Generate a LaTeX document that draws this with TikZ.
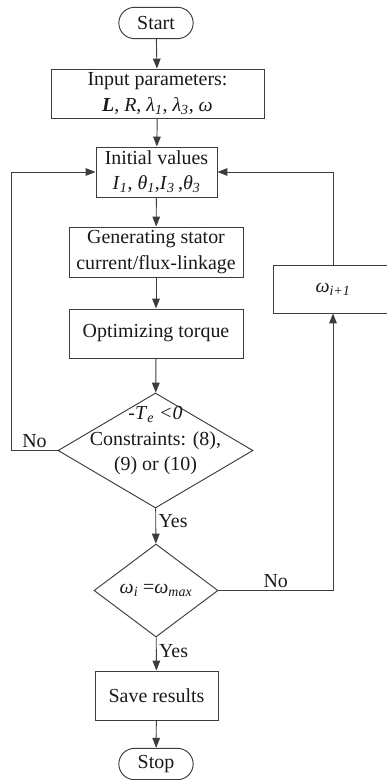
\documentclass[tikz,border=0pt]{standalone}
\usepackage{fontspec}
\setmainfont{Liberation Serif}
\usetikzlibrary{arrows.meta,shapes.geometric,shapes.misc}
\definecolor{lineCol}{RGB}{60,60,60}
\definecolor{textCol}{RGB}{25,25,25}
\tikzset{
  txt/.style={font=\fontsize{17}{21.5}\selectfont,text=textCol,align=center},
  proc/.style={rectangle,draw=lineCol,line width=0.8pt,fill=white,txt,
    inner sep=2pt},
  term/.style={rounded rectangle,draw=lineCol,line width=0.8pt,fill=white,
    txt,minimum width=23.7mm,minimum height=9.4mm,inner sep=2pt},
  decide/.style={diamond,draw=lineCol,line width=0.8pt,fill=white,txt,
    inner sep=0pt},
  lbl/.style={txt,inner sep=2pt},
  arr/.style={-{Triangle[length=8.5pt,width=6.5pt]},line width=0.8pt,
    color=lineCol},
}

\begin{document}
\begin{tikzpicture}[x=0.3mm,y=-0.3mm]
\useasboundingbox (0,0) rectangle (386,780);

% =====================================================================
%  MAIN COLUMN — Start down to Stop
% =====================================================================
\node[term] (start) at (156,23) {Start};
\node[proc,minimum width=63.9mm,minimum height=14.7mm] (inp) at (157.5,93.5)
  {Input parameters:\\
   \textbf{\textit{L}}, \textit{R}, \textit{λ}\textsubscript{\textit{1}},
   \textit{λ}\textsubscript{\textit{3}}, \textit{ω}};
\node[proc,minimum width=36.3mm,minimum height=15mm] (init) at (156.5,172)
  {Initial values\\
   \textit{I}\textsubscript{\textit{1}}, \textit{θ}\textsubscript{\textit{1}},\textit{I}\textsubscript{\textit{3}}\,,\textit{θ}\textsubscript{\textit{3}}};
\node[proc,minimum width=52.2mm,minimum height=15mm] (gen) at (156,252)
  {Generating stator\\current/flux-linkage};
\node[proc,minimum width=52.2mm,minimum height=14.7mm] (opt) at (156,333.5)
  {Optimizing torque};

% --- decisions ---
\node[decide,minimum width=58.5mm,minimum height=34.5mm,
  label={[txt,yshift=3mm]center:{-\textit{T}\textsubscript{\textit{e}} \textit{<0}\\
    Constraints: (8),\\(9) or (10)}}] (dec1) at (155.5,450.5) {};
\node[decide,minimum width=37.2mm,minimum height=27.9mm] (dec2) at (156,590.5)
  {\textit{ω}\textsubscript{\textit{i}} =\textit{ω}\textsubscript{\textit{max}}};

\node[proc,minimum width=36.9mm,minimum height=14.7mm] (save) at (156.5,695.5)
  {Save results};
\node[term] (stop) at (156,764) {Stop};

% --- speed step (cut by the right edge) ---
\node[proc,minimum width=36mm,minimum height=14.4mm] (wnext) at (333,289)
  {\textit{ω}\textsubscript{\textit{i+1}}};

% =====================================================================
%  ARROWS
% =====================================================================
\draw[arr] (start) -- (inp);
\draw[arr] (inp) -- (init);
\draw[arr] (init) -- (gen);
\draw[arr] (gen) -- (opt);
\draw[arr] (opt) -- (dec1);
\draw[arr] (dec1) -- node[lbl,right,pos=0.35] {Yes} (dec2);
\draw[arr] (dec2) -- node[lbl,right,pos=0.4] {Yes} (save);
\draw[arr] (save) -- (stop);

% No (constraints) -> back to initial values, along the left side
\draw[arr] (dec1.west) -- node[lbl,above] {No} ++(-46,0) |- (init.west);

% No (speed) -> next speed -> initial values, along the right side
\draw[arr] (dec2.east) -| node[lbl,above,pos=0.25] {No} (wnext.south);
\draw[arr] (wnext.north) |- (init.east);

\end{tikzpicture}
\end{document}
